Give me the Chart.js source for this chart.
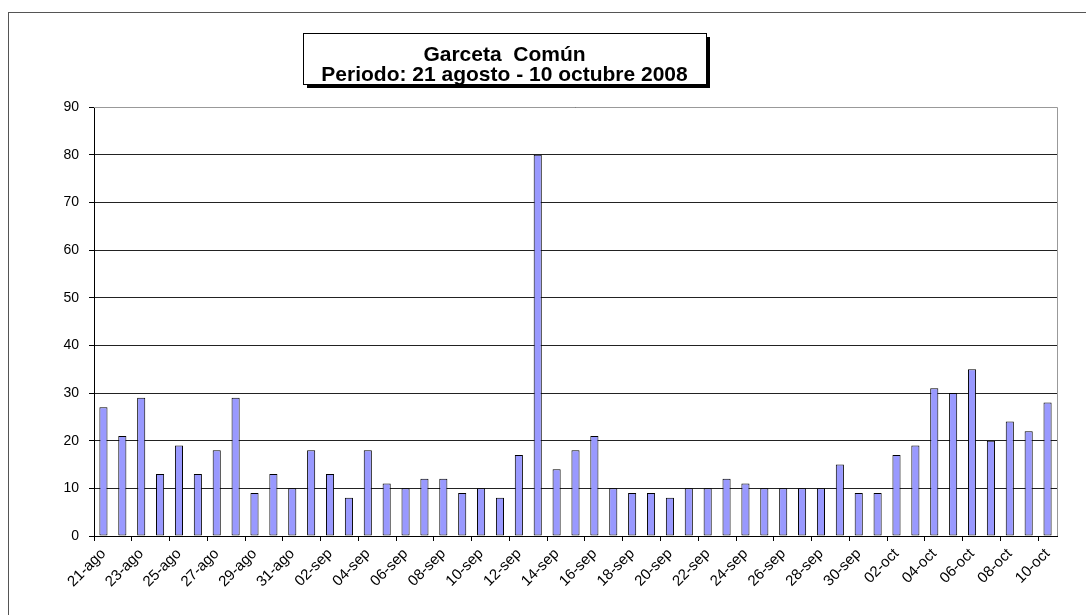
<!DOCTYPE html>
<html lang="es">
<head>
  <meta charset="UTF-8" />
  <title>Garceta Común</title>
  <script src="https://cdn.jsdelivr.net/npm/chart.js@4.4.0/dist/chart.umd.min.js"></script>
  <style>
    body { margin: 0; background: #fff; }
    canvas { display: block; }
  </style>
</head>
<body>
  <canvas id="chart" width="1086" height="615"></canvas>

  <script>
    const days = [
      '21-ago','22-ago','23-ago','24-ago','25-ago','26-ago','27-ago','28-ago','29-ago','30-ago','31-ago',
      '01-sep','02-sep','03-sep','04-sep','05-sep','06-sep','07-sep','08-sep','09-sep','10-sep',
      '11-sep','12-sep','13-sep','14-sep','15-sep','16-sep','17-sep','18-sep','19-sep','20-sep',
      '21-sep','22-sep','23-sep','24-sep','25-sep','26-sep','27-sep','28-sep','29-sep','30-sep',
      '01-oct','02-oct','03-oct','04-oct','05-oct','06-oct','07-oct','08-oct','09-oct','10-oct'
    ];
    const counts = [
      27, 21, 29, 13, 19, 13, 18, 29, 9, 13, 10,
      18, 13, 8, 18, 11, 10, 12, 12, 9, 10,
      8, 17, 80, 14, 18, 21, 10, 9, 9, 8,
      10, 10, 12, 11, 10, 10, 10, 10, 15, 9,
      9, 17, 19, 31, 30, 35, 20, 24, 22, 28
    ];
    const titleLines = ['Garceta  Común', 'Periodo: 21 agosto - 10 octubre 2008'];

    const font = '"Liberation Sans", Arial, sans-serif';

    // frame, plot border and the boxed title
    const decor = {
      id: 'decor',
      beforeDraw(chart) {
        const c = chart.ctx;
        c.save();
        c.fillStyle = '#fff';
        c.fillRect(0, 0, chart.width, chart.height);
        c.strokeStyle = '#555';
        c.lineWidth = 1;
        c.strokeRect(8.5, 12.5, chart.width + 10, chart.height + 10);
        c.restore();
      },
      afterDraw(chart) {
        const c = chart.ctx;
        const a = chart.chartArea;
        c.save();
        c.strokeStyle = '#999';
        c.lineWidth = 1;
        c.beginPath();
        c.moveTo(a.left, a.top + 0.5);
        c.lineTo(Math.round(a.right) + 0.5, a.top + 0.5);
        c.lineTo(Math.round(a.right) + 0.5, a.bottom);
        c.stroke();

        // title box with shadow
        const bx = 303, by = 33, bw = 403, bh = 51;
        c.fillStyle = '#000';
        c.fillRect(bx + 4, by + 4, bw, bh);
        c.fillStyle = '#fff';
        c.fillRect(bx, by, bw, bh);
        c.strokeStyle = '#000';
        c.strokeRect(bx + 0.5, by + 0.5, bw, bh);
        c.fillStyle = '#000';
        c.font = 'bold 21px ' + font;
        c.textAlign = 'center';
        c.textBaseline = 'middle';
        c.fillText(titleLines[0], bx + bw / 2, by + 22);
        c.fillText(titleLines[1], bx + bw / 2, by + 42);
        c.restore();
      }
    };

    new Chart(document.getElementById('chart'), {
      type: 'bar',
      data: {
        labels: days,
        datasets: [{
          data: counts,
          backgroundColor: '#9999ff',
          borderColor: '#000',
          borderWidth: 1,
          borderSkipped: false,
          categoryPercentage: 1,
          barPercentage: 0.43
        }]
      },
      options: {
        responsive: false,
        animation: false,
        layout: { padding: { top: 107, right: 29, left: 0, bottom: 0 } },
        plugins: {
          legend: { display: false },
          title: { display: false },
          tooltip: { enabled: false }
        },
        scales: {
          x: {
            afterFit: (s) => { s.height = 79; },
            border: { color: '#000', width: 1 },
            grid: {
              drawOnChartArea: false,
              tickLength: 5,
              color: (ctx) => (ctx.index % 2 === 0 ? '#000' : 'rgba(0,0,0,0)')
            },
            ticks: {
              autoSkip: false,
              maxRotation: 45,
              minRotation: 45,
              padding: 4,
              color: '#000',
              font: { family: font, size: 15 },
              callback: function (v, i) { return i % 2 === 0 ? this.getLabelForValue(v) : ''; }
            }
          },
          y: {
            min: 0,
            max: 90,
            afterFit: (s) => { s.width = 94; },
            border: { color: '#000', width: 1 },
            grid: { color: '#222', tickLength: 5, tickColor: '#000' },
            ticks: {
              stepSize: 10,
              padding: 10,
              color: '#000',
              font: { family: font, size: 14 }
            }
          }
        }
      },
      plugins: [decor]
    });
  </script>
</body>
</html>
